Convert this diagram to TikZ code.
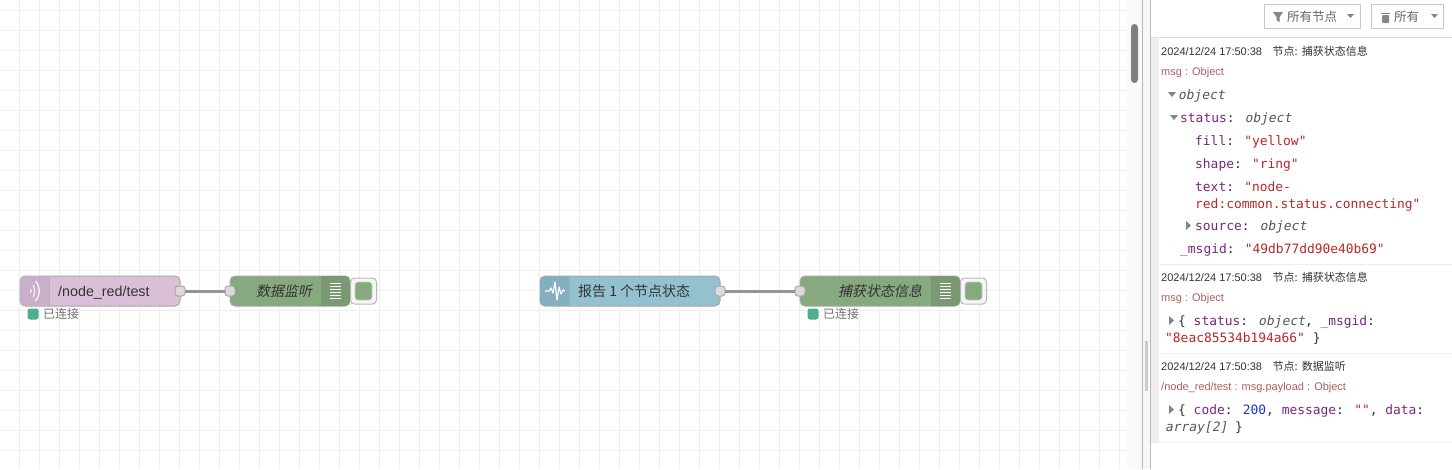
\documentclass[tikz,border=0pt]{standalone}
\usepackage{fontspec}
\setmainfont{Liberation Sans}
\newfontfamily\cjk{Noto Sans CJK SC}
\newfontfamily\cjkit[FakeSlant=0.2]{Noto Sans CJK SC}
\newfontfamily\mono{DejaVu Sans Mono}
\definecolor{gridc}{HTML}{EEEEEE}
\definecolor{nodeline}{HTML}{A8A8A8}
\definecolor{pinkn}{HTML}{D9BFD8}
\definecolor{pinkd}{HTML}{CBAEC9}
\definecolor{bluen}{HTML}{94C1D0}
\definecolor{blued}{HTML}{84AFBE}
\definecolor{greenn}{HTML}{87A980}
\definecolor{greend}{HTML}{7A9973}
\definecolor{statg}{HTML}{4FAE8E}
\definecolor{txt}{HTML}{333333}
\definecolor{keyc}{HTML}{79277F}
\definecolor{strc}{HTML}{B72828}
\definecolor{numc}{HTML}{2033D6}
\definecolor{typec}{HTML}{555555}
\definecolor{hdrc}{HTML}{AD5F5F}
\tikzset{
 gridline/.style={gridc,line width=1pt},
 nodebody/.style={draw=nodeline,line width=1pt,rounded corners=5pt,minimum height=30pt,inner sep=0pt,outer sep=0pt,anchor=north west},
 portbox/.style={draw=nodeline,fill=black!14,line width=1pt,rounded corners=3pt,minimum width=10pt,minimum height=10pt,inner sep=0pt,outer sep=0pt},
 wire/.style={black!42,line width=3pt},
 label/.style={anchor=base west,inner sep=0pt,text=txt,font=\fontsize{14.3pt}{16pt}\selectfont},
 stattext/.style={anchor=base west,inner sep=0pt,text=black!55,font=\cjk\fontsize{12pt}{14pt}\selectfont},
 statdot/.style={fill=statg,rounded corners=2.5pt,minimum size=11pt,inner sep=0pt,outer sep=0pt,anchor=north west},
 meta/.style={anchor=base west,inner sep=0pt,text=txt,font=\fontsize{11pt}{12pt}\selectfont},
 hdr/.style={anchor=base west,inner sep=0pt,text=hdrc,font=\fontsize{11pt}{12pt}\selectfont},
 code/.style={anchor=base west,inner sep=0pt,text=txt,font=\mono\fontsize{12.9pt}{15pt}\selectfont},
 toolbtn/.style={draw=black!22,fill=white,line width=1pt,anchor=north west,inner sep=0pt,outer sep=0pt,minimum height=24pt},
 btntext/.style={anchor=base west,inner sep=0pt,text=black!60,font=\cjk\fontsize{12.5pt}{14pt}\selectfont},
 tri/.style={fill=black!48,draw=none},
 sepline/.style={gridc,line width=1pt},
 debugbtn/.style={draw=black!28,fill=gridc!50,line width=1pt,rounded corners=4pt,minimum width=26pt,minimum height=26pt,inner sep=0pt,outer sep=0pt,anchor=north west},
 debugbtnin/.style={fill=greenn,draw=black!20,line width=.6pt,rounded corners=3pt,minimum width=17pt,minimum height=18pt,inner sep=0pt,outer sep=0pt,anchor=north west},
}
\newcommand{\K}[1]{\textcolor{keyc}{#1}}
\newcommand{\St}[1]{\textcolor{strc}{#1}}
\newcommand{\Ty}[1]{\textcolor{typec}{\fontspec{DejaVu Sans Mono}[FakeSlant=0.2]#1}}
\begin{document}
\begin{tikzpicture}[x=1pt,y=-1pt]
\useasboundingbox (0,0) rectangle (1452,469);
\fill[white] (0,0) rectangle (1452,469);
% grid
\foreach \gx in {19.5,39.5,...,1120} {\draw[gridline] (\gx,0) -- (\gx,469);}
\foreach \gy in {10,30,...,469} {\draw[gridline] (0,\gy) -- (1127,\gy);}
% scrollbar & dividers
\fill[black!2] (1127,0) rectangle (1142,469);
\fill[black!3] (1142,0) rectangle (1150,469);
\draw[black!28,line width=1pt] (1142.5,0) -- (1142.5,469);
\draw[black!28,line width=1pt] (1150.5,0) -- (1150.5,469);
\fill[black!50,rounded corners=3.5pt] (1131,24) rectangle (1138,83);
\fill[black!20] (1145,341) rectangle (1148,391);
% sidebar
\fill[white] (1151,0) rectangle (1452,469);
\draw[black!12,line width=1pt] (1151,37.5) -- (1452,37.5);
\fill[gridc] (1151,38) rectangle (1159,442);
\draw[sepline] (1151,264.5) -- (1452,264.5);
\draw[sepline] (1151,353.5) -- (1452,353.5);
\draw[sepline] (1151,442.5) -- (1452,442.5);
% toolbar
\node[toolbtn,minimum width=96pt] (btnA) at (1264.5,4.5) {};
\node[toolbtn,minimum width=72pt] (btnB) at (1371.5,4.5) {};
\fill[tri] (1273,12) -- (1283,12) -- (1279.5,17) -- (1279.5,22) -- (1276.5,20.5) -- (1276.5,17) -- cycle;
\node[btntext] (btnAt) at (1287,21) {所有节点};
\fill[tri] (1347,14) -- (1354,14) -- (1350.5,18) -- cycle;
\fill[tri] (1381,12.5) rectangle (1390,14);
\fill[tri,rounded corners=1pt] (1382,15) rectangle (1389,23);
\node[btntext] (btnBt) at (1394,21) {所有};
\fill[tri] (1431,14) -- (1438,14) -- (1434.5,18) -- cycle;
% flow nodes
\node[nodebody,fill=pinkn,minimum width=160pt] (inject) at (20,276) {};
\begin{scope}
\clip[rounded corners=5pt] (20,276) rectangle (180,306);
\fill[pinkd] (20,276) rectangle (49.5,306);
\end{scope}
\draw[nodeline!70!pinkn,line width=.8pt] (49.5,276.5) -- (49.5,305.5);
\draw[white,line width=1pt] (30.5,289) .. controls (31.5,290) and (31.5,292) .. (30.5,293);
\draw[white,line width=1pt] (33,285) .. controls (35,288) and (35,294) .. (33,297);
\draw[white,line width=1.2pt] (35.5,281) .. controls (40.5,287) and (40.5,295) .. (35.5,301);
\node[label] (injectt) at (58,296) {/node\_red/test};
\node[nodebody,fill=greenn,minimum width=120pt] (dbgA) at (230,276) {};
\begin{scope}
\clip[rounded corners=5pt] (230,276) rectangle (350,306);
\fill[greend] (320.5,276) rectangle (350,306);
\end{scope}
\foreach \ly in {283.5,286.5,...,299} {\draw[white,line width=1pt] (330,\ly) -- (341,\ly);}
\node[label,font=\cjkit\fontsize{14pt}{16pt}\selectfont] (dbgAt) at (256,296) {数据监听};
\node[debugbtn] (btnDa) at (350.5,278) {};
\node[debugbtnin] (btnDai) at (355,282) {};
\node[nodebody,fill=bluen,minimum width=180pt] (stat) at (540,276) {};
\begin{scope}
\clip[rounded corners=5pt] (540,276) rectangle (720,306);
\fill[blued] (540,276) rectangle (569.5,306);
\end{scope}
\draw[nodeline!70!bluen,line width=.8pt] (569.5,276.5) -- (569.5,305.5);
\draw[white,line width=1.2pt,line join=round] (545,291) -- (549,291) -- (551,288) -- (553,293) -- (555,282) -- (557,300) -- (559,287) -- (561,294) -- (563,290) -- (565,291);
\node[label,font=\cjk\fontsize{14pt}{16pt}\selectfont] (statt) at (578,296) {报告 1 个节点状态};
\node[nodebody,fill=greenn,minimum width=160pt] (dbgB) at (800,276) {};
\begin{scope}
\clip[rounded corners=5pt] (800,276) rectangle (960,306);
\fill[greend] (930.5,276) rectangle (960,306);
\end{scope}
\foreach \ly in {283.5,286.5,...,299} {\draw[white,line width=1pt] (940,\ly) -- (951,\ly);}
\node[label,font=\cjkit\fontsize{14pt}{16pt}\selectfont] (dbgBt) at (838,296) {捕获状态信息};
\node[debugbtn] (btnDb) at (960.5,278) {};
\node[debugbtnin] (btnDbi) at (965,282) {};
% ports and wires
\node[portbox] (pOutA) at (180,291) {};
\node[portbox] (pInA) at (230,291) {};
\node[portbox] (pOutB) at (720,291) {};
\node[portbox] (pInB) at (800,291) {};
\draw[wire] (pOutA) -- (pInA);
\draw[wire] (pOutB) -- (pInB);
% status
\node[statdot] (sA) at (27.5,308.5) {};
\node[stattext] (sAt) at (43,318.5) {已连接};
\node[statdot] (sB) at (807.5,308.5) {};
\node[stattext] (sBt) at (823,318.5) {已连接};
% log 1
\node[meta] (m1) at (1161,55) {2024/12/24 17:50:38\hspace{10.5pt}{\cjk 节点:} {\cjk 捕获状态信息}};
\node[hdr] (h1) at (1161,75) {msg : Object};
\fill[tri] (1168,92) -- (1176,92) -- (1172,97) -- cycle;
\node[code] (c1) at (1178,99) {\Ty{object}};
\fill[tri] (1170,115) -- (1178,115) -- (1174,120) -- cycle;
\node[code] (c2) at (1180,122) {\K{status}: \Ty{object}};
\node[code] (c3) at (1195,145) {\K{fill}: \St{"yellow"}};
\node[code] (c4) at (1195,168) {\K{shape}: \St{"ring"}};
\node[code] (c5) at (1195,191) {\K{text}: \St{"node-}};
\node[code] (c6) at (1195,208) {\St{red:common.status.connecting"}};
\fill[tri] (1186,221) -- (1191,225.5) -- (1186,230) -- cycle;
\node[code] (c7) at (1195,230) {\K{source}: \Ty{object}};
\node[code] (c8) at (1180,253) {\K{\_msgid}: \St{"49db77dd90e40b69"}};
% log 2
\node[meta] (m2) at (1161,281) {2024/12/24 17:50:38\hspace{10.5pt}{\cjk 节点:} {\cjk 捕获状态信息}};
\node[hdr] (h2) at (1161,301) {msg : Object};
\fill[tri] (1169,316) -- (1174,320.5) -- (1169,325) -- cycle;
\node[code] (c9) at (1178,325) {\{ \K{status}: \Ty{object}, \K{\_msgid}:};
\node[code] (c10) at (1165,342) {\St{"8eac85534b194a66"} \}};
% log 3
\node[meta] (m3) at (1161,370) {2024/12/24 17:50:38\hspace{10.5pt}{\cjk 节点:} {\cjk 数据监听}};
\node[hdr] (h3) at (1161,390) {/node\_red/test : msg.payload : Object};
\fill[tri] (1169,405) -- (1174,409.5) -- (1169,414) -- cycle;
\node[code] (c11) at (1178,414) {\{ \K{code}: \textcolor{numc}{200}, \K{message}: \St{""}, \K{data}:};
\node[code] (c12) at (1165,431) {\Ty{array[2]} \}};
\end{tikzpicture}
\end{document}
